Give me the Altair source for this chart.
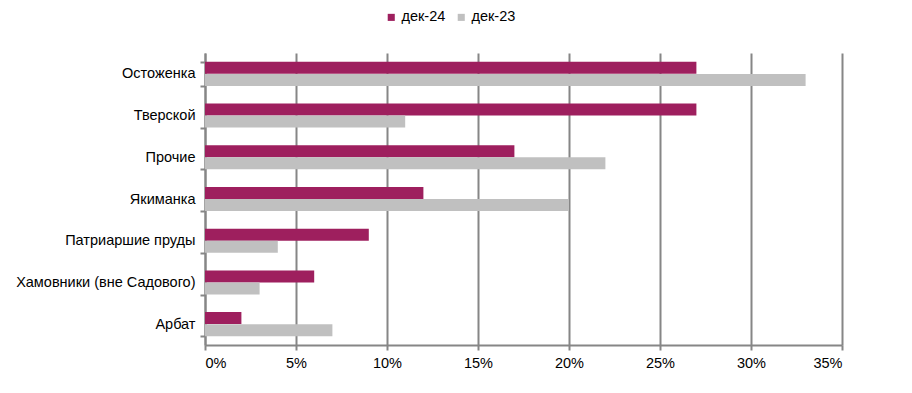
import altair as alt
import pandas as pd

categories = ["Остоженка", "Тверской", "Прочие", "Якиманка", "Патриаршие пруды",
              "Хамовники (вне Садового)", "Арбат"]
series_names = ["дек-24", "дек-23"]
dek24 = [27, 27, 17, 12, 9, 6, 2]
dek23 = [33, 11, 22, 20, 4, 3, 7]
x_ticks = [0, 5, 10, 15, 20, 25, 30, 35]
colors = ["#9E1F5E", "#C0C0C0"]

rows = []
for i, c in enumerate(categories):
    rows.append({"cat": c, "series": series_names[0], "value": dek24[i]})
    rows.append({"cat": c, "series": series_names[1], "value": dek23[i]})
df = pd.DataFrame(rows)

font = "Liberation Sans"
fs = 14.5

chart = alt.Chart(df).mark_bar(size=12).encode(
    y=alt.Y("cat:N", sort=categories, title=None,
            scale=alt.Scale(paddingInner=0.42, paddingOuter=0.21),
            axis=alt.Axis(tickBand="extent", domainColor="#868686", domainWidth=2,
                          tickColor="#868686", tickWidth=2, tickSize=5,
                          labelFont=font, labelFontSize=fs, labelColor="#000000",
                          labelPadding=5, labelLimit=300)),
    yOffset=alt.YOffset("series:N", sort=series_names),
    x=alt.X("value:Q", title=None,
            scale=alt.Scale(domain=[0, 35], nice=False),
            axis=alt.Axis(values=x_ticks, labelExpr="datum.value + '%'",
                          grid=True, gridColor="#868686", gridWidth=2,
                          domainColor="#868686", domainWidth=2,
                          tickColor="#868686", tickWidth=2, tickSize=5,
                          labelFont=font, labelFontSize=fs, labelColor="#000000",
                          labelPadding=6)),
    color=alt.Color("series:N", sort=series_names,
                    scale=alt.Scale(domain=series_names, range=colors),
                    legend=alt.Legend(title=None, orient="none", direction="horizontal",
                                      legendX=179, legendY=-43,
                                      symbolType="square", symbolSize=50,
                                      symbolStrokeWidth=0, symbolOffset=0,
                                      labelOffset=3,
                                      labelFont=font, labelFontSize=fs,
                                      labelColor="#000000", columnPadding=8)),
).properties(
    width=637, height=292,
    autosize=alt.AutoSizeParams(type="none"),
    padding={"left": 197, "top": 45, "right": 60, "bottom": 40},
).configure_view(stroke=None).configure_axis(labelFont=font)

chart.save("out.html", embed_options={"renderer": "svg", "actions": False})
